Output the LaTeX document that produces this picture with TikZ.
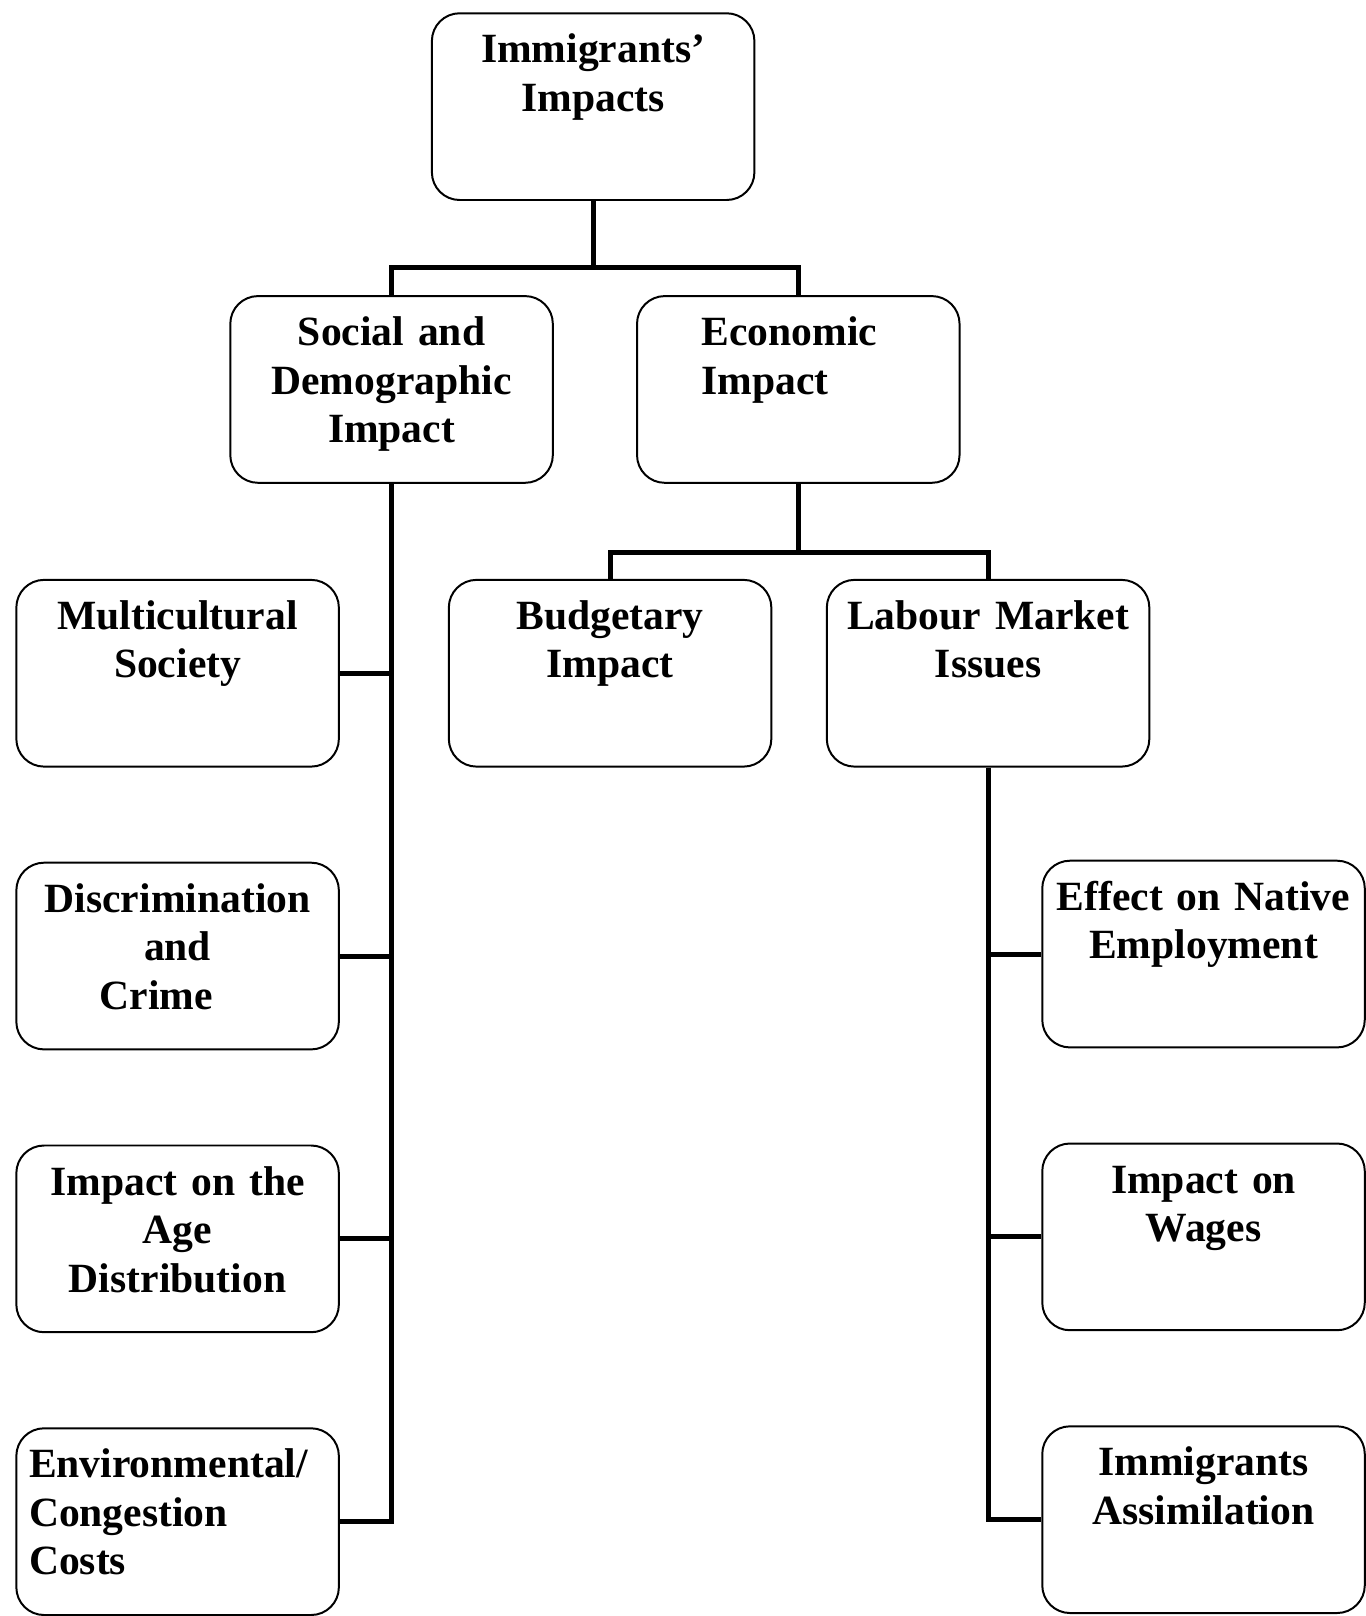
\documentclass[tikz,border=0pt]{standalone}
\usepackage{fontspec}
\setmainfont{Liberation Serif}
\usetikzlibrary{positioning}

\begin{document}
\begin{tikzpicture}[
  node distance=95pt and 83pt,
  topic/.style={rectangle, rounded corners=28pt, draw=black, line width=2pt, fill=white,
    minimum width=325.6pt, minimum height=188.5pt, text width=300pt, align=center,
    inner xsep=12pt, inner ysep=19pt, text height=31pt, text depth=119.5pt,
    font=\fontsize{42}{49}\selectfont\bfseries},
  link/.style={line width=5pt, line join=miter}
]

\node[topic] (top) {Immigrants'\\Impacts};

\node[topic, below=95pt of top, xshift=-203.5pt] (social) {Social and\\Demographic\\Impact};
\node[topic, right=83pt of social, text width=195pt, align=left] (econ) {Economic\\Impact};

\node[topic, below=96pt of social, xshift=-216pt] (multi) {Multicultural\\Society};
\node[topic, below=of multi] (discr) {Discrimination\\and\\Crime\kern43pt\mbox{}};
\node[topic, below=of discr] (age) {Impact on the\\Age\\Distribution};
\node[topic, below=of age, align=left] (env) {Environmental/\\Congestion\\Costs};

\node[topic, below=96pt of econ, xshift=-190pt] (budget) {Budgetary\\Impact};
\node[topic, right=54pt of budget] (labour) {Labour Market\\Issues};

\node[topic, below=93pt of labour, xshift=217.5pt] (effect) {Effect on Native\\Employment};
\node[topic, below=of effect] (wages) {Impact on\\Wages};
\node[topic, below=of wages] (assim) {Immigrants\\Assimilation};

% tree links
\draw[link] (top.south) -- ++(0,-67pt);
\draw[link] (social.north) |- ([yshift=-67pt]top.south) -| (econ.north);

\draw[link] (econ.south) -- ++(0,-69pt);
\draw[link] (budget.north) |- ([yshift=-69pt]econ.south) -| (labour.north);

\draw[link] (social.south) |- (env.east);
\draw[link] (multi.east) -- (multi.east -| social.south);
\draw[link] (discr.east) -- (discr.east -| social.south);
\draw[link] (age.east) -- (age.east -| social.south);

\draw[link] (labour.south) |- (assim.west);
\draw[link] (effect.west) -- (effect.west -| labour.south);
\draw[link] (wages.west) -- (wages.west -| labour.south);

\useasboundingbox ([xshift=-435pt,yshift=12.4pt]top.north west) rectangle ++(1361pt,-1616pt);
\end{tikzpicture}
\end{document}
